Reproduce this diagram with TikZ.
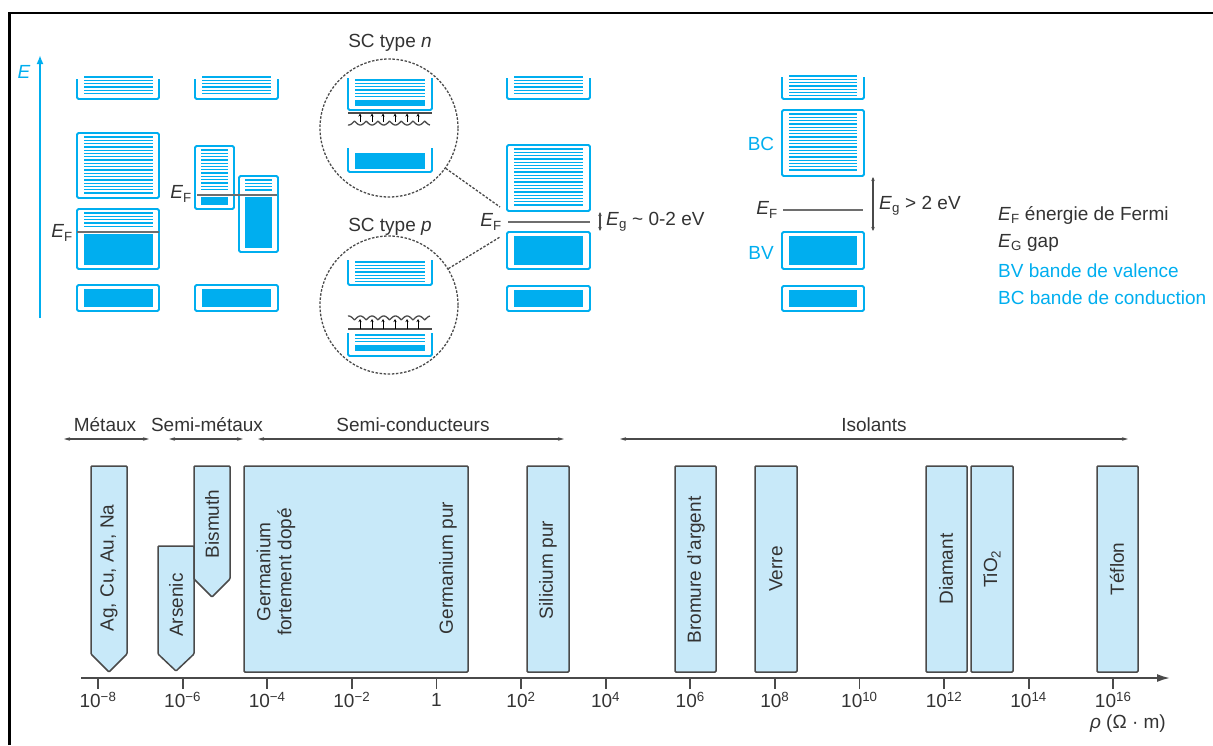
\documentclass[tikz,border=0pt]{standalone}
\usepackage{fontspec}
\setmainfont{Liberation Sans}
\usetikzlibrary{arrows.meta}
\definecolor{bandcyan}{HTML}{00AEEF}
\definecolor{lightfill}{HTML}{C8E9F9}
\definecolor{boxgray}{HTML}{4A4A4A}
\definecolor{txtgray}{HTML}{333333}
\definecolor{efgray}{HTML}{6E6E6E}
\newcommand\EFlab{\textit{E}\textsubscript{F}}
\newcommand\bandU[4]{\draw[bandline] (#1,#2) -- (#1,#4) -- (#3,#4) -- (#3,#2);}
\newcommand\bandR[4]{\draw[bandline] (#1,#2) rectangle (#3,#4);}
\newcommand\bandF[4]{\fill[bandcyan] (#1,#2) rectangle (#3,#4);}
\newcommand\bandH[4]{\pgfmathtruncatemacro\bandHn{(#4-#2)/3.3}%
  \foreach \k in {0,...,\bandHn}{\draw[hatchline] (#1,{#2+\k*3.3}) -- (#3,{#2+\k*3.3});}}
\begin{document}
\begin{tikzpicture}[x=1pt,y=-1pt,
  every node/.style={font=\fontsize{19}{21}\selectfont, text=txtgray, inner sep=0pt},
  bandline/.style={draw=bandcyan, line width=1.8pt, rounded corners=1.5pt},
  hatchline/.style={draw=bandcyan, line width=1.3pt},
  efline/.style={draw=efgray, line width=2pt},
  thinline/.style={draw=boxgray, line width=1.3pt},
  gaparrow/.style={draw=boxgray, line width=1.1pt, {Stealth[length=4pt,width=3.5pt]}-{Stealth[length=4pt,width=3.5pt]}},
  scircle/.style={circle, draw=boxgray, line width=1.3pt, dash pattern=on 2.5pt off 1.6pt, minimum size=138pt},
  dashlink/.style={draw=boxgray, line width=1.3pt, dash pattern=on 2.5pt off 1.6pt},
  smallup/.style={draw=black, line width=0.9pt, -{Stealth[length=3pt,width=3pt]}},
  hdrarrow/.style={draw=boxgray, line width=1.1pt, {Stealth[length=6pt,width=3.5pt]}-{Stealth[length=6pt,width=3.5pt]}},
  matbox/.style={draw=boxgray, fill=lightfill, line width=1.5pt, rounded corners=1pt},
  axisline/.style={draw=boxgray, line width=1.8pt},
  rotlab/.style={rotate=90}]
\useasboundingbox (0,0) rectangle (1213,745);
% frame
\draw[line width=2.5pt] (9.5,745) -- (9.5,13) -- (1213,13);
% energy axis
\draw[draw=bandcyan, line width=1.8pt, -{Latex[length=9pt,width=7pt]}] (40,318) -- (40,55);
\node[text=bandcyan] (elab) at (24,72) {\textit{E}};
% column 1 : metal
\bandU{77}{79}{159}{99}\bandH{84}{77}{153}{96}
\bandR{77}{133}{159}{198}\bandH{84}{137}{153}{195}
\bandR{77}{209}{159}{269}\bandH{84}{213}{153}{229}\bandF{84}{234}{153}{265}
\draw[efline] (77,232) -- (159,232);
\node[anchor=east] (ef1) at (73,233) {\EFlab};
\bandR{77}{285}{159}{311}\bandF{84}{289}{153}{307}
% column 2 : semi-metal
\bandU{195}{79}{278}{99}\bandH{202}{77}{271}{96}
\bandR{195}{146}{234}{209}\bandH{201}{150}{228}{192}\bandF{201}{197}{228}{205}
\bandR{239}{176}{278}{252}\bandH{245}{180}{272}{192}\bandF{245}{197}{272}{248}
\draw[efline] (197,195) -- (277,195);
\node[anchor=east] (ef2) at (192,194) {\EFlab};
\bandR{195}{285}{278}{311}\bandF{202}{289}{271}{307}
% column 3 : semiconductor
\bandU{507}{78}{590}{99}\bandH{514}{77}{583}{96}
\bandR{507}{145}{590}{211}\bandH{514}{149}{583}{208}
\draw[efline] (508,222) -- (590,222);
\node[anchor=east] (ef3) at (502,222) {\EFlab};
\bandR{507}{232}{590}{269}\bandF{514}{236}{583}{265}
\bandR{507}{286}{590}{311}\bandF{514}{290}{583}{307}
\coordinate (g3a) at (600,212);
\coordinate (g3b) at (600,231);
\draw[gaparrow] (g3a) -- (g3b);
\node[anchor=west] (eg3) at (606,222) {\textit{E}\textsubscript{g} \textasciitilde\ 0-2 eV};
% column 4 : insulator
\bandU{782}{77}{864}{99}\bandH{789}{76}{857}{96}
\bandR{782}{110}{864}{176}\bandH{789}{114}{857}{173}
\draw[efline] (783,210) -- (863,210);
\node[anchor=east] (ef4) at (778,210) {\EFlab};
\bandR{782}{232}{864}{269}\bandF{789}{236}{857}{265}
\bandR{782}{286}{864}{311}\bandF{789}{290}{857}{307}
\coordinate (g4a) at (873,177);
\coordinate (g4b) at (873,231);
\draw[gaparrow] (g4a) -- (g4b);
\node[anchor=west] (eg4) at (879,206) {\textit{E}\textsubscript{g} > 2 eV};
\node[text=bandcyan] (bc) at (761,144) {BC};
\node[text=bandcyan] (bv) at (761,253) {BV};
% legend
\node[anchor=west] (l1) at (998,215) {\EFlab\ énergie de Fermi};
\node[anchor=west] (l2) at (998,243) {\textit{E}\textsubscript{G} gap};
\node[anchor=west, text=bandcyan] (l3) at (998,271) {BV bande de valence};
\node[anchor=west, text=bandcyan] (l4) at (998,298) {BC bande de conduction};
% SC type n
\node (tn) at (390,43) {SC type \textit{n}};
\node[scircle] (scn) at (389,128) {};
\bandU{348}{78}{432}{110}\bandH{355}{80}{425}{97}\bandF{355}{100}{425}{106}
\draw[thinline] (348,113) -- (432,113);
\draw[thinline, domain=348:430, samples=120] plot (\x,{121+4*abs(sin((\x-354.5)*180/11.7))});
\foreach \xx in {360,372,383,395,407,418}{\draw[smallup] (\xx,122) -- (\xx,113.5);}
\bandU{348}{148}{432}{172}\bandF{355}{153}{425}{169}
% SC type p
\node (tp) at (390,227) {SC type \textit{p}};
\node[scircle] (scp) at (389,305) {};
\bandU{348}{260}{432}{285}\bandH{355}{262}{425}{282}
\draw[thinline, domain=348:430, samples=120] plot (\x,{320-4*abs(sin((\x-354.5)*180/11.7))});
\draw[thinline] (348,329) -- (432,329);
\foreach \xx in {360,372,383,395,407,418}{\draw[smallup] (\xx,329) -- (\xx,319);}
\bandU{348}{333}{432}{356}\bandH{355}{335}{425}{342}\bandF{355}{345}{425}{351}
% links
\coordinate (cn) at (500,207);
\coordinate (cp) at (500,237);
\draw[dashlink] (scn) -- (cn);
\draw[dashlink] (scp) -- (cp);
% ---------- bottom: resistivity scale ----------
\node (hmet) at (105,425) {Métaux};
\node (hsm) at (207,425) {Semi-métaux};
\node (hsc) at (413,425) {Semi-conducteurs};
\node (his) at (874,425) {Isolants};
\coordinate (am1) at (64,439); \coordinate (am2) at (149,439);
\coordinate (as1) at (169,439); \coordinate (as2) at (243,439);
\coordinate (ac1) at (258,439); \coordinate (ac2) at (564,439);
\coordinate (ai1) at (620,439); \coordinate (ai2) at (1128,439);
\draw[hdrarrow] (am1) -- (am2);
\draw[hdrarrow] (as1) -- (as2);
\draw[hdrarrow] (ac1) -- (ac2);
\draw[hdrarrow] (ai1) -- (ai2);
% material boxes
\draw[matbox] (91,466) -- (127,466) -- (127,654) -- (109,672) -- (91,654) -- cycle;
\draw[matbox] (158,546) -- (194,546) -- (194,654) -- (176,671) -- (158,654) -- cycle;
\draw[matbox] (194,466) -- (230,466) -- (230,579) -- (212,597) -- (194,579) -- cycle;
\draw[matbox] (244,466) rectangle (468,672);
\draw[matbox] (527,466) rectangle (569,672);
\draw[matbox] (675,466) rectangle (716,672);
\draw[matbox] (755,466) rectangle (797,672);
\draw[matbox] (926,466) rectangle (967,672);
\draw[matbox] (971,466) rectangle (1013,672);
\draw[matbox] (1097,466) rectangle (1138,672);
\node[rotlab] (mag) at (109,568) {Ag, Cu, Au, Na};
\node[rotlab] (mas) at (176,605) {Arsenic};
\node[rotlab] (mbi) at (212,524) {Bismuth};
\node[rotlab, align=center] (mgd) at (276,572) {Germanium\\fortement dopé};
\node[rotlab] (mgp) at (448,568) {Germanium pur};
\node[rotlab] (msi) at (548,570) {Silicium pur};
\node[rotlab] (mbr) at (696,570) {Bromure d’argent};
\node[rotlab] (mve) at (776,569) {Verre};
\node[rotlab] (mdi) at (946,569) {Diamant};
\node[rotlab] (mti) at (992,569) {TiO\textsubscript{2}};
\node[rotlab] (mte) at (1117,569) {Téflon};
% axis
\coordinate (ax0) at (81,678);
\coordinate (ax1) at (1170,678);
\draw[axisline, -{Latex[length=13pt,width=8pt]}] (ax0) -- (ax1);
\foreach \k/\lab in {0/10\textsuperscript{−8},1/10\textsuperscript{−6},2/10\textsuperscript{−4},3/10\textsuperscript{−2},4/1,5/10\textsuperscript{2},6/10\textsuperscript{4},7/10\textsuperscript{6},8/10\textsuperscript{8},9/10\textsuperscript{10},10/10\textsuperscript{12},11/10\textsuperscript{14},12/10\textsuperscript{16}}{
  \draw[axisline] ({98+84.6*\k},678) -- ({98+84.6*\k},689);
  \node (t\k) at ({98+84.6*\k},700) {\lab};
}
\node[anchor=east] (rho) at (1166,724) {\textit{ρ} (Ω · m)};
\end{tikzpicture}
\end{document}
